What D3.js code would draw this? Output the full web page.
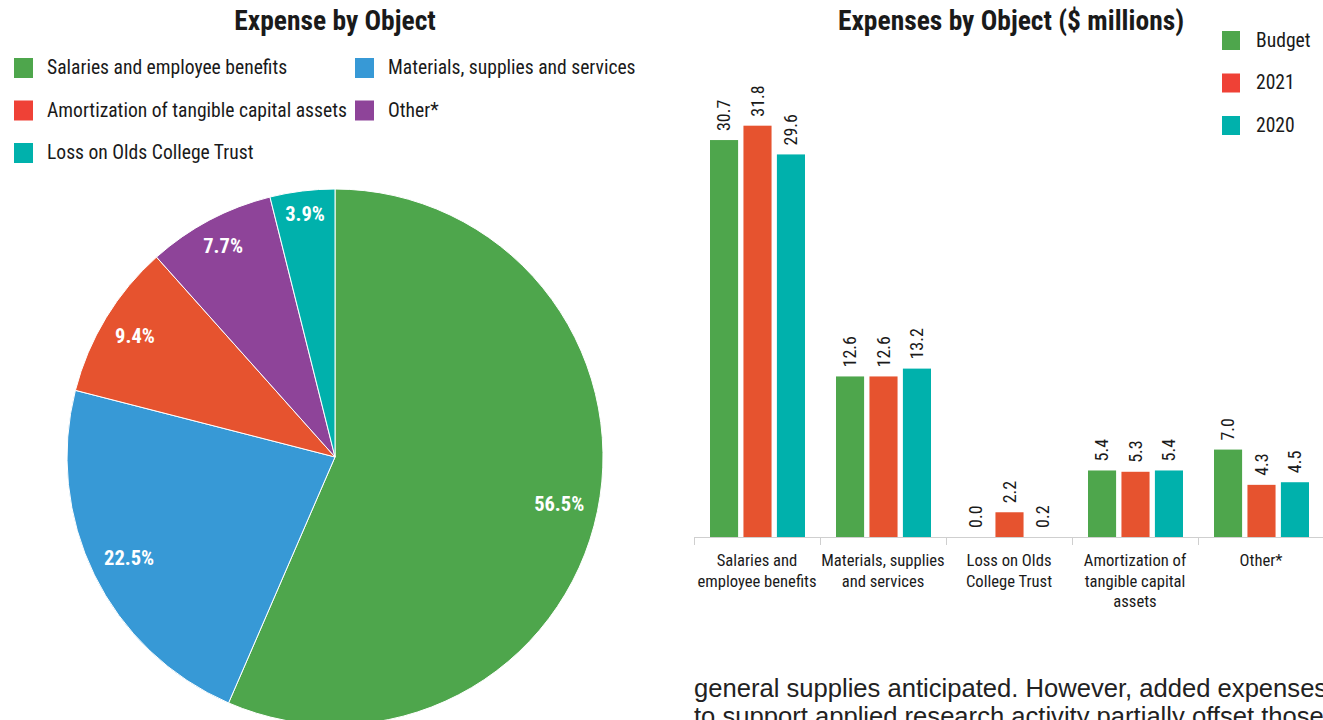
<!DOCTYPE html>
<html><head><meta charset="utf-8">
<script src="https://cdn.jsdelivr.net/npm/d3@7"></script>
<style>
html,body{margin:0;padding:0;background:#fff;}
svg{display:block;}
</style></head><body>
<svg id="c" width="1323" height="720"></svg>
<script>
const pieCategories = ["Salaries and employee benefits","Materials, supplies and services","Amortization of tangible capital assets","Other*","Loss on Olds College Trust"];
const pieValues = [56.5, 22.5, 9.4, 7.7, 3.9];
const pieColors = ["#4ea64c","#3799d6","#e6532f","#8e4499","#00b1ac"];
const pieLegendColors = ["#4ea64c","#3799d6","#ef4136","#8e4499","#00b1ac"];

const barCategories = ["Salaries and employee benefits","Materials, supplies and services","Loss on Olds College Trust","Amortization of tangible capital assets","Other*"];
const barTickLabels = [["Salaries and","employee benefits"],["Materials, supplies","and services"],["Loss on Olds","College Trust"],["Amortization of","tangible capital","assets"],["Other*"]];
const seriesNames = ["Budget","2021","2020"];
const budget = [30.7, 12.6, 0.0, 5.4, 7.0];
const y2021 = [31.8, 12.6, 2.2, 5.3, 4.3];
const y2020 = [29.6, 13.2, 0.2, 5.4, 4.5];
const barColors = ["#4ea64c","#e6532f","#00b1ac"];
const barLegendColors = ["#4ea64c","#ef4136","#00b1ac"];

const svg = d3.select("#c");
const FONT = '"Liberation Sans Narrow","Arial Narrow","Roboto Condensed",sans-serif';

// ---------- Pie ----------
svg.append("text").attr("x",335).attr("y",30).attr("text-anchor","middle")
  .attr("font-family",FONT).attr("font-weight","bold").attr("font-size",27.5).attr("fill","#1a1a1a")
  .text("Expense by Object");

const leg = svg.append("g");
pieCategories.forEach((c,i)=>{
  const col=i%2,row=Math.floor(i/2);
  const x = col===0?14:355, y=58+row*42.5;
  leg.append("rect").attr("x",x).attr("y",y).attr("width",19).attr("height",20).attr("fill",pieLegendColors[i]);
  leg.append("text").attr("x",x+33).attr("y",y+16).attr("font-family",FONT).attr("font-size",19.6).attr("fill","#1a1a1a").text(c);
});

const cx=335, cy=457, R=268;
const pie = d3.pie().sort(null).value(d=>d)(pieValues);
const arc = d3.arc().innerRadius(0).outerRadius(R);
const pg = svg.append("g").attr("transform",`translate(${cx},${cy})`);
pg.selectAll("path").data(pie).join("path").attr("d",arc).attr("fill",(d,i)=>pieColors[i])
  .attr("stroke","#fff").attr("stroke-width",1);
const LFS = 20.5;
pg.selectAll("text").data(pie).join("text")
  .attr("text-anchor","middle").attr("dy","0.36em")
  .attr("font-family",FONT).attr("font-weight","bold").attr("font-size",LFS).attr("fill","#fff")
  .text(d=>d.data.toFixed(1)+"%")
  .each(function(d){
    const w = this.getComputedTextLength(), h = LFS*0.72;
    const a = (d.startAngle+d.endAngle)/2;
    const s = Math.sin(a), c = Math.cos(a);
    const dist = (R-13) - ((w/2)*Math.abs(s) + (h/2)*Math.abs(c));
    d3.select(this).attr("x", s*dist).attr("y", -c*dist);
  });

// ---------- Bars ----------
svg.append("text").attr("x",1011).attr("y",30).attr("text-anchor","middle")
  .attr("font-family",FONT).attr("font-weight","bold").attr("font-size",27.5).attr("fill","#1a1a1a")
  .text("Expenses by Object ($ millions)");

const axisY = 537;
const x0 = d3.scaleBand().domain(barCategories).range([694,1324]).padding(0);
const x1 = d3.scaleBand().domain(seriesNames).range([16,111]).paddingInner(0.16);
const y = d3.scaleLinear().domain([0,35]).range([541,541-35*13.06]);
const series = [budget,y2021,y2020];

const bg = svg.append("g");
barCategories.forEach((c,ci)=>{
  seriesNames.forEach((s,si)=>{
    const v = series[si][ci];
    const top = Math.min(y(v), axisY);
    const bx = x0(c)+x1(s);
    bg.append("rect").attr("x",bx).attr("y",top).attr("width",x1.bandwidth()).attr("height",axisY-top)
      .attr("fill",barColors[si]);
    bg.append("text").attr("transform",`translate(${bx+x1.bandwidth()/2},${top-9}) rotate(-90)`)
      .attr("text-anchor","start").attr("dy","0.35em")
      .attr("font-family",FONT).attr("font-size",18).attr("fill","#1a1a1a").text(v.toFixed(1));
  });
});

const ax = svg.append("g").attr("transform",`translate(0,${axisY})`)
  .call(d3.axisBottom(x0).tickSize(0).tickFormat(""));
ax.select(".domain").attr("stroke","#cfcfcf").attr("d","M694,0.5H1323");
ax.selectAll(".tick").remove();
const bounds = barCategories.map(c=>x0(c)).concat([x0.range()[1]]);
bounds.forEach(b=>{
  ax.append("line").attr("x1",b+0.5).attr("x2",b+0.5).attr("y1",0).attr("y2",8).attr("stroke","#cfcfcf");
});
barCategories.forEach((c,ci)=>{
  const t = ax.append("text").attr("x",x0(c)+x0.bandwidth()/2).attr("y",29).attr("text-anchor","middle")
    .attr("font-family",FONT).attr("font-size",16.6).attr("fill","#1a1a1a");
  barTickLabels[ci].forEach((ln,li)=>t.append("tspan").attr("x",x0(c)+x0.bandwidth()/2).attr("dy",li?20.5:0).text(ln));
});

const bl = svg.append("g");
seriesNames.forEach((s,i)=>{
  const yy = 31+i*42.5;
  bl.append("rect").attr("x",1222).attr("y",yy).attr("width",18).attr("height",19).attr("fill",barLegendColors[i]);
  bl.append("text").attr("x",1256).attr("y",yy+15.5).attr("font-family",FONT).attr("font-size",19.6).attr("fill","#1a1a1a").text(s);
});

// body text
svg.append("text").attr("x",694).attr("y",697).attr("font-family","'Liberation Sans',Arial,sans-serif")
  .attr("font-size",25.6).attr("fill","#222").text("general supplies anticipated. However, added expenses");
svg.append("text").attr("x",694).attr("y",725).attr("font-family","'Liberation Sans',Arial,sans-serif")
  .attr("font-size",25.6).attr("fill","#222").text("to support applied research activity partially offset those");
</script>
</body></html>
